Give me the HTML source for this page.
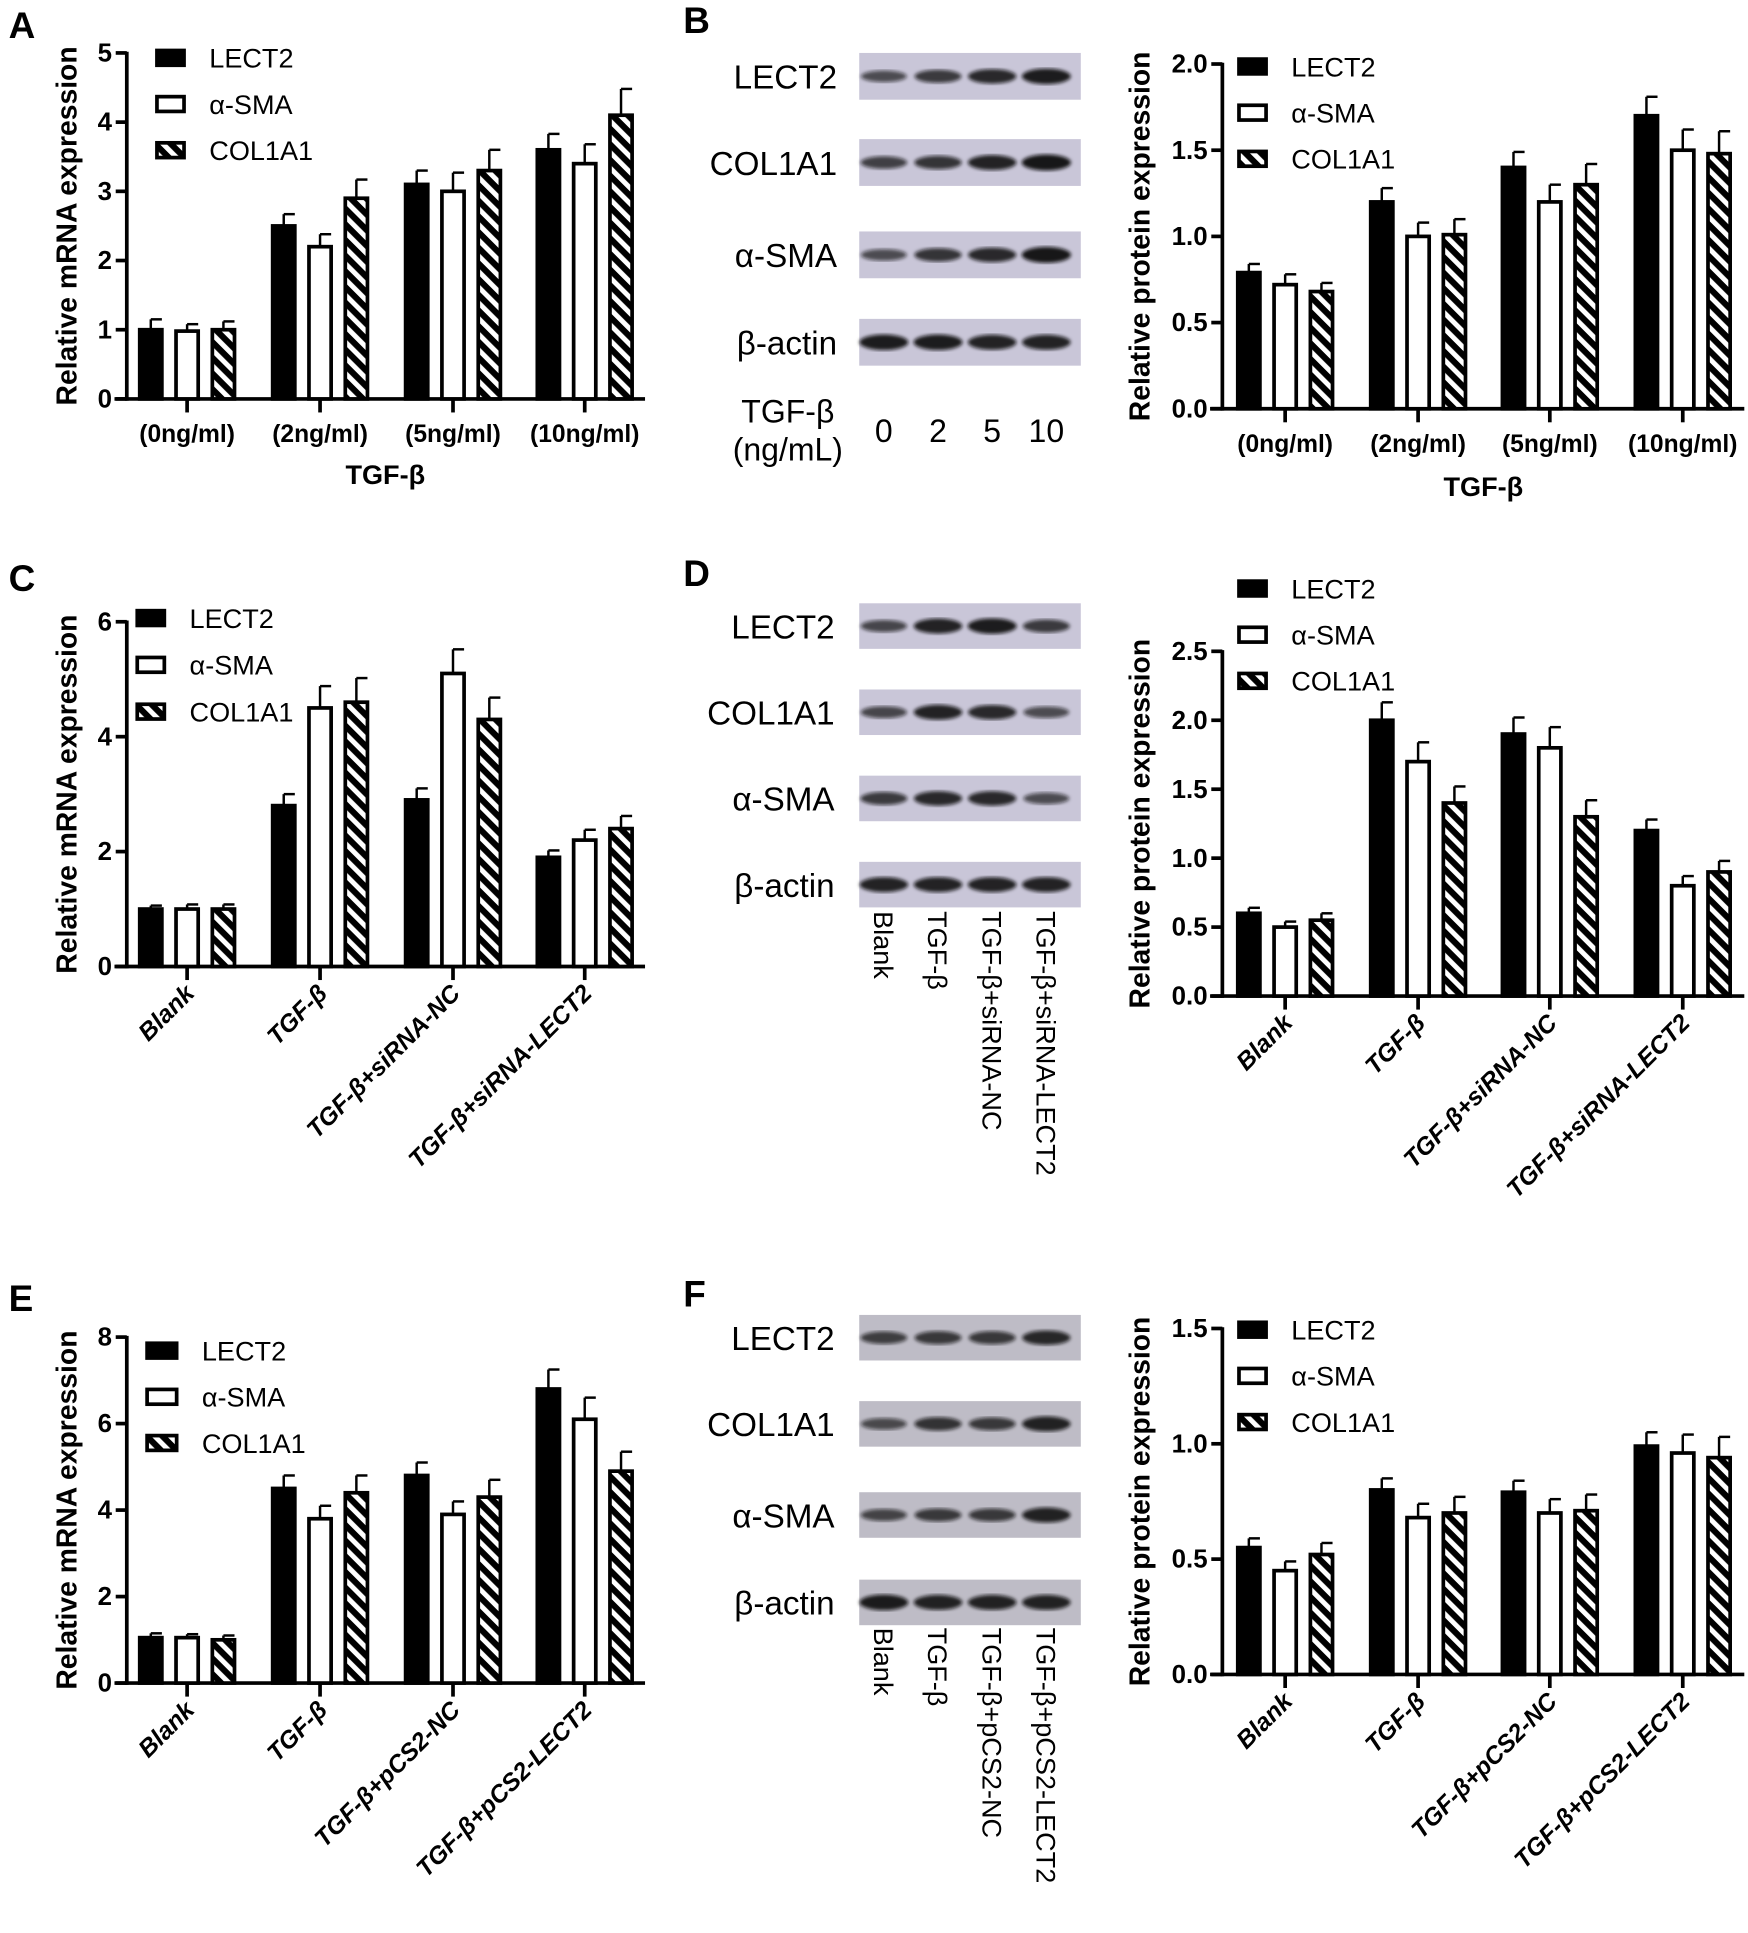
<!DOCTYPE html>
<html><head><meta charset="utf-8">
<style>
html,body{margin:0;padding:0;background:#fff;}
svg{display:block;}
text{font-family:"Liberation Sans",Arial,sans-serif;}
</style></head>
<body>
<svg id="fig" width="1748" height="1933" viewBox="0 0 1420 1570" preserveAspectRatio="none" xmlns="http://www.w3.org/2000/svg">
<defs>
<pattern id="hatch" patternUnits="userSpaceOnUse" width="9" height="9" patternTransform="rotate(-45)">
<rect width="9" height="9" fill="#000"/><rect x="0" y="0" width="4" height="9" fill="#fff"/>
</pattern>
<filter id="blur"><feGaussianBlur stdDeviation="1.6"/></filter>
</defs>
<g id="root"></g>
</svg>
<script>
// ---------- data ----------
const groupsTGF = ["(0ng/ml)","(2ng/ml)","(5ng/ml)","(10ng/ml)"];
const groupsSi = ["Blank","TGF-β","TGF-β+siRNA-NC","TGF-β+siRNA-LECT2"];
const groupsPc = ["Blank","TGF-β","TGF-β+pCS2-NC","TGF-β+pCS2-LECT2"];
const seriesNames = ["LECT2","α-SMA","COL1A1"];

const aLECT2 = [1.0,2.5,3.1,3.6];   const aLECT2Err = [0.15,0.17,0.2,0.23];
const aSMA = [0.98,2.2,3.0,3.4];    const aSMAErr = [0.1,0.18,0.27,0.28];
const aCOL = [1.0,2.9,3.3,4.1];     const aCOLErr = [0.12,0.27,0.3,0.38];
const aTicks = [0,1,2,3,4,5];

const bLECT2 = [0.79,1.2,1.4,1.7];  const bLECT2Err = [0.05,0.08,0.09,0.11];
const bSMA = [0.72,1.0,1.2,1.5];    const bSMAErr = [0.06,0.08,0.1,0.12];
const bCOL = [0.68,1.01,1.3,1.48];  const bCOLErr = [0.05,0.09,0.12,0.13];
const bTicks = [0,0.5,1.0,1.5,2.0];

const cLECT2 = [1.0,2.8,2.9,1.9];   const cLECT2Err = [0.06,0.2,0.2,0.12];
const cSMA = [1.0,4.5,5.1,2.2];     const cSMAErr = [0.08,0.38,0.42,0.18];
const cCOL = [1.0,4.6,4.3,2.4];     const cCOLErr = [0.08,0.42,0.38,0.22];
const cTicks = [0,2,4,6];

const dLECT2 = [0.6,2.0,1.9,1.2];   const dLECT2Err = [0.04,0.13,0.12,0.08];
const dSMA = [0.5,1.7,1.8,0.8];     const dSMAErr = [0.04,0.14,0.15,0.07];
const dCOL = [0.55,1.4,1.3,0.9];    const dCOLErr = [0.05,0.12,0.12,0.08];
const dTicks = [0,0.5,1.0,1.5,2.0,2.5];

const eLECT2 = [1.05,4.5,4.8,6.8];  const eLECT2Err = [0.1,0.3,0.3,0.45];
const eSMA = [1.05,3.8,3.9,6.1];    const eSMAErr = [0.08,0.3,0.3,0.5];
const eCOL = [1.0,4.4,4.3,4.9];     const eCOLErr = [0.1,0.4,0.4,0.45];
const eTicks = [0,2,4,6,8];

const fLECT2 = [0.55,0.8,0.79,0.99]; const fLECT2Err = [0.04,0.05,0.05,0.06];
const fSMA = [0.45,0.68,0.7,0.96];   const fSMAErr = [0.04,0.06,0.06,0.08];
const fCOL = [0.52,0.7,0.71,0.94];   const fCOLErr = [0.05,0.07,0.07,0.09];
const fTicks = [0,0.5,1.0,1.5];

// blot band intensities (rows: LECT2, COL1A1, α-SMA, β-actin)
const blotB = [[0.55,0.7,0.85,0.95],[0.65,0.75,0.9,1.0],[0.55,0.75,0.85,1.0],[0.95,0.95,0.9,0.9]];
const blotD = [[0.6,0.9,0.95,0.7],[0.6,0.9,0.85,0.55],[0.7,0.85,0.85,0.55],[0.9,0.9,0.9,0.9]];
const blotF = [[0.65,0.7,0.7,0.85],[0.55,0.75,0.7,0.9],[0.6,0.7,0.7,0.9],[0.95,0.9,0.9,0.9]];
const blotRows = ["LECT2","COL1A1","α-SMA","β-actin"];

// ---------- helpers ----------
const NS = "http://www.w3.org/2000/svg";
const root = document.getElementById("root");
function mk(tag, attrs, parent, txt){
  const e = document.createElementNS(NS, tag);
  for (const k in attrs) e.setAttribute(k, attrs[k]);
  if (txt !== undefined) e.textContent = txt;
  (parent||root).appendChild(e);
  return e;
}

function chart(p){
  const g = mk("g", {});
  
  
  const ymax = p.ticks[p.ticks.length-1];
  const yS = v => p.y0 - (v/ymax)*(p.y0-p.yTop);
  const xS = (gi, si) => p.centers[gi] + (si-1)*p.step;
  const ya = mk("line",{x1:p.x0,y1:p.yTop-1,x2:p.x0,y2:p.y0+1.5,stroke:"#000","stroke-width":3},g);
  
  
  const xa = mk("line",{x1:p.x0-10,y1:p.y0,x2:p.xEnd,y2:p.y0,stroke:"#000","stroke-width":3},g);
  
  
  p.ticks.forEach(t=>{
    const y=yS(t);
    mk("line",{x1:p.x0-9,y1:y,x2:p.x0,y2:y,stroke:"#000","stroke-width":3},g);
    const tl = mk("text",{x:p.x0-12,y:y+7,"text-anchor":"end","font-size":21,"font-weight":"bold"},g, p.fmt?t.toFixed(1):String(t));
    
    
  });
  const fills = ["#000","#fff","url(#hatch)"];
  p.series.forEach((vals, si)=>{
    vals.forEach((v, gi)=>{
      const cx = xS(gi, si), y = yS(v), ey = yS(v + p.errs[si][gi]);
      const el = mk("line",{x1:cx,y1:y,x2:cx,y2:ey,stroke:"#000","stroke-width":2},g);
      
      
      mk("line",{x1:cx,y1:ey,x2:cx+9,y2:ey,stroke:"#000","stroke-width":2},g);
      const r = mk("rect",{x:cx-p.bw/2,y:y,width:p.bw,height:p.y0-y,fill:fills[si],stroke:"#000","stroke-width":3},g);
      
      
    });
  });
  p.groups.forEach((lab, gi)=>{
    const cx = p.centers[gi];
    mk("line",{x1:cx,y1:p.y0,x2:cx,y2:p.y0+11,stroke:"#000","stroke-width":3},g);
    let t;
    if (p.rotate){
      t = mk("text",{x:cx+7,y:p.y0+23,"text-anchor":"end","font-size":20,"font-weight":"bold","font-style":"italic",transform:`rotate(-45 ${cx+7} ${p.y0+23})`},g,lab);
    } else {
      t = mk("text",{x:cx,y:p.y0+35,"text-anchor":"middle","font-size":20,"font-weight":"bold"},g,lab);
    }
    
    
  });
  const cy = (p.yTop+p.y0)/2;
  const yt = mk("text",{x:p.ytX,y:cy,"text-anchor":"middle","font-size":23,"font-weight":"bold",transform:`rotate(-90 ${p.ytX} ${cy})`},g,p.ytitle);
  
  
  if (p.xtitle){
    const xt = mk("text",{x:p.xtX,y:p.xtY,"text-anchor":"middle","font-size":22,"font-weight":"bold"},g,p.xtitle);
    
    
  }
  seriesNames.forEach((n, si)=>{
    const ly = p.legY + si*p.legStep;
    const lg = mk("g",{},g);
    
    
    mk("rect",{x:p.legX+1.5,y:ly-6,width:p.legW,height:12,fill:fills[si],stroke:"#000","stroke-width":3},lg);
    mk("text",{x:p.legX+p.legW+22,y:ly+8,"font-size":22},lg,n);
  });
}

function blot(p){
  const g = mk("g",{});
  
  
  p.data.forEach((row, ri)=>{
    const top = p.rowY[ri];
    const bg = mk("rect",{x:p.x,y:top,width:180,height:p.h,fill:p.bg},g);
    
    
    row.forEach((v, li)=>{
      const cx = p.lanes[li];
      mk("ellipse",{cx:cx,cy:top+p.h/2,rx:17+v*3,ry:2.5+v*4,fill:"#111","fill-opacity":0.35+v*0.6,filter:"url(#blur)"},g);
    });
    const lab = mk("text",{x:p.labX,y:top+p.h/2+10,"text-anchor":"end","font-size":27},g,blotRows[ri]);
    
    
  });
  if (p.laneLabels){
    p.laneLabels.forEach((l, li)=>{
      const x = p.lanes[li]-8, y = p.laneY;
      const t = mk("text",{x:x,y:y,"font-size":22,transform:`rotate(90 ${x} ${y})`},g,l);
      
      
    });
  }
}

function letter(L,x,y){
  const t = mk("text",{x:x,y:y,"font-size":30,"font-weight":"bold"},root,L);
  
  
}

const leftCenters = [152,260,368,475];
const rightCenters = [1044,1152,1259,1367];
letter("A",7,31); letter("B",555,27); letter("C",7,480); letter("D",555,476); letter("E",7,1065); letter("F",555,1061);

chart({name:"chart-a",x0:103,xEnd:524,y0:324,yTop:43,ticks:aTicks,fmt:false,centers:leftCenters,step:29.5,bw:18,
  series:[aLECT2,aSMA,aCOL],errs:[aLECT2Err,aSMAErr,aCOLErr],groups:groupsTGF,rotate:false,
  ytitle:"Relative mRNA expression",ytX:62,xtitle:"TGF-β",xtX:313,xtY:393,legX:126,legY:47,legStep:37.5,legW:22});
chart({name:"chart-b",x0:993,xEnd:1417,y0:332,yTop:52,ticks:bTicks,fmt:true,centers:rightCenters,step:29.5,bw:18,
  series:[bLECT2,bSMA,bCOL],errs:[bLECT2Err,bSMAErr,bCOLErr],groups:groupsTGF,rotate:false,
  ytitle:"Relative protein expression",ytX:934,xtitle:"TGF-β",xtX:1205,xtY:403,legX:1005,legY:54,legStep:37.5,legW:22});
chart({name:"chart-c",x0:103,xEnd:524,y0:785,yTop:505,ticks:cTicks,fmt:false,centers:leftCenters,step:29.5,bw:18,
  series:[cLECT2,cSMA,cCOL],errs:[cLECT2Err,cSMAErr,cCOLErr],groups:groupsSi,rotate:true,
  ytitle:"Relative mRNA expression",ytX:62,legX:110,legY:502,legStep:38,legW:22});
chart({name:"chart-d",x0:993,xEnd:1417,y0:809,yTop:529,ticks:dTicks,fmt:true,centers:rightCenters,step:29.5,bw:18,
  series:[dLECT2,dSMA,dCOL],errs:[dLECT2Err,dSMAErr,dCOLErr],groups:groupsSi,rotate:true,
  ytitle:"Relative protein expression",ytX:934,legX:1005,legY:478,legStep:37.5,legW:22});
chart({name:"chart-e",x0:103,xEnd:524,y0:1367,yTop:1086,ticks:eTicks,fmt:false,centers:leftCenters,step:29.5,bw:18,
  series:[eLECT2,eSMA,eCOL],errs:[eLECT2Err,eSMAErr,eCOLErr],groups:groupsPc,rotate:true,
  ytitle:"Relative mRNA expression",ytX:62,legX:118,legY:1097,legStep:37.5,legW:24});
chart({name:"chart-f",x0:993,xEnd:1417,y0:1360,yTop:1079,ticks:fTicks,fmt:true,centers:rightCenters,step:29.5,bw:18,
  series:[fLECT2,fSMA,fCOL],errs:[fLECT2Err,fSMAErr,fCOLErr],groups:groupsPc,rotate:true,
  ytitle:"Relative protein expression",ytX:934,legX:1005,legY:1080,legStep:37.5,legW:22});

const lanes = [718,762,806,850];
blot({name:"blot-b",x:698,h:38,rowY:[43,113,188,259],lanes:lanes,data:blotB,bg:"#c9c6d8",labX:680});
blot({name:"blot-d",x:698,h:37,rowY:[490,560,630,700],lanes:lanes,data:blotD,bg:"#c9c6d8",labX:678,
  laneLabels:["Blank","TGF-β","TGF-β+siRNA-NC","TGF-β+siRNA-LECT2"],laneY:740});
blot({name:"blot-f",x:698,h:37,rowY:[1068,1138,1212,1283],lanes:lanes,data:blotF,bg:"#bebcc6",labX:678,
  laneLabels:["Blank","TGF-β","TGF-β+pCS2-NC","TGF-β+pCS2-LECT2"],laneY:1322});

(function(){
  const t1 = mk("text",{x:640,y:343,"text-anchor":"middle","font-size":26},root,"TGF-β");
  
  
  const t2 = mk("text",{x:640,y:374,"text-anchor":"middle","font-size":26},root,"(ng/mL)");
  
  
  ["0","2","5","10"].forEach((s,i)=>{
    const t = mk("text",{x:lanes[i],y:359,"text-anchor":"middle","font-size":26},root,s);
    
    
  });
})();
</script>
</body></html>
